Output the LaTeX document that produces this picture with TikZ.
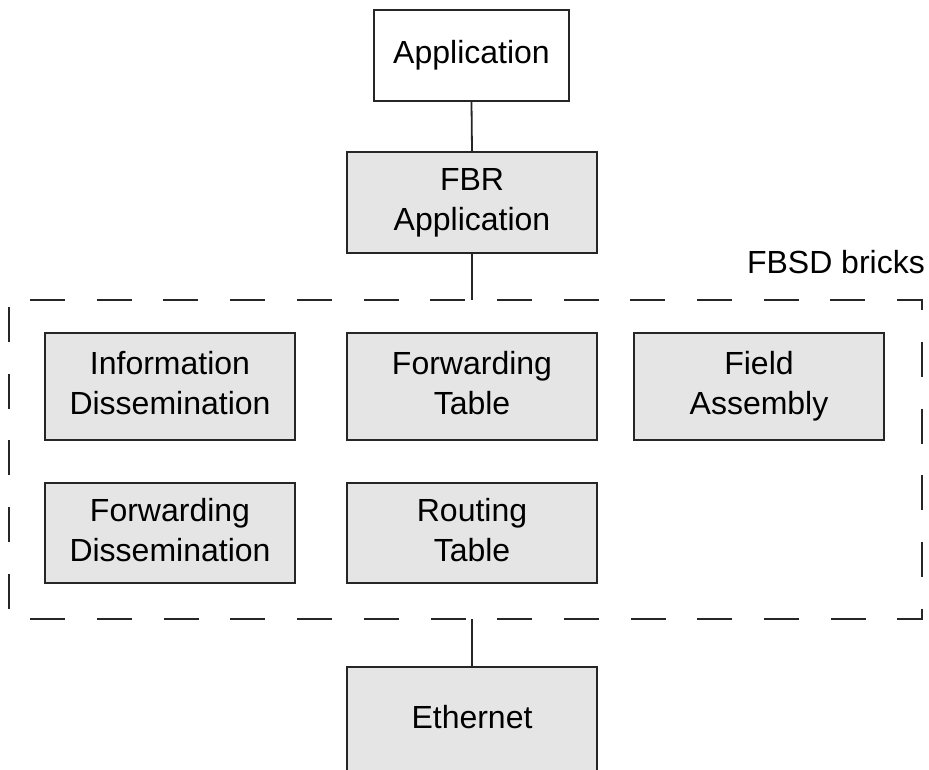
\documentclass[tikz,border=0pt]{standalone}
\usepackage{fontspec}
\setmainfont{Liberation Sans}
% each line gets a strut so every label sits at the same height
\newcommand{\bline}[1]{#1\strut}
\begin{document}
\begin{tikzpicture}[x=1pt,y=-1pt,
  brick/.style={draw=black!85, line width=1.8pt, fill=black!10,
    minimum width=250pt, align=center, inner sep=0pt,
    font=\fontsize{32}{40}\selectfont},
  plainbox/.style={brick, fill=white},
  link/.style={draw=black!85, line width=1.8pt},
  groupline/.style={draw=black!85, line width=1.8pt,
    dash pattern=on 35pt off 31.7pt, dash phase=45.7pt}]
\useasboundingbox (0,0) rectangle (929,769);
\begin{scope}
\clip (0,0) rectangle (929,769);

% top of the stack
\node[plainbox, minimum width=195pt, minimum height=91pt] (app) at (471.5,55.5) {\bline{Application}};
\node[brick, minimum height=101pt] (fbr) at (472,202.5) {\bline{FBR}\\\bline{Application}};

% group frame corners
\coordinate (gtl) at (9,300);
\coordinate (gtr) at (922,300);
\coordinate (gbr) at (922,619);
\coordinate (gbl) at (9,619);
\coordinate (gtop) at (472,300);
\coordinate (gbot) at (472,619);
\draw[groupline] (gtl) -- (gtr) -- (gbr) -- (gbl) -- cycle;
\node[anchor=base east, inner sep=0pt, font=\fontsize{32}{40}\selectfont] (glabel) at (925,273) {FBSD bricks};

% bricks inside the group
\node[brick, minimum height=107pt] (info) at (170,386.5) {\bline{Information}\\\bline{Dissemination}};
\node[brick, minimum height=107pt] (ftab) at (472,386.5) {\bline{Forwarding}\\\bline{Table}};
\node[brick, minimum height=107pt] (field) at (759,386.5) {\bline{Field}\\\bline{Assembly}};
\node[brick, minimum height=100pt] (fdis) at (170,533) {\bline{Forwarding}\\\bline{Dissemination}};
\node[brick, minimum height=100pt] (rtab) at (472,533) {\bline{Routing}\\\bline{Table}};

% bottom of the stack
\node[brick, minimum height=106pt] (eth) at (472,720) {\bline{Ethernet}};

% connectors
\draw[link] (app.south) -- (fbr.north);
\draw[link] (fbr.south) -- (gtop);
\draw[link] (gbot) -- (eth.north);
\end{scope}
\end{tikzpicture}
\end{document}
